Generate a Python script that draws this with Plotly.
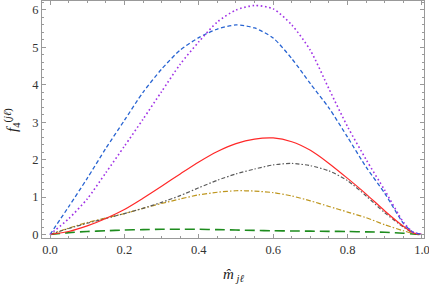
import plotly.graph_objects as go

x = [0.0, 0.05, 0.1, 0.15, 0.2, 0.25, 0.3, 0.35, 0.4, 0.45, 0.5,
     0.55, 0.6, 0.65, 0.7, 0.75, 0.8, 0.85, 0.9, 0.95, 0.975, 1.0]

blue = [0.0, 0.74, 1.5, 2.3, 3.05, 3.8, 4.42, 4.93, 5.26, 5.49, 5.6,
        5.52, 5.25, 4.7, 4.03, 3.38, 2.6, 1.8, 1.1, 0.3, 0.07, 0.0]
purple = [0.0, 0.42, 0.95, 1.65, 2.36, 3.08, 3.82, 4.55, 5.15, 5.68, 6.0,
          6.12, 6.03, 5.6, 4.92, 3.89, 2.88, 2.0, 1.18, 0.33, 0.07, 0.0]
red = [0.0, 0.08, 0.23, 0.43, 0.67, 0.97, 1.29, 1.62, 1.94, 2.22, 2.43,
       2.55, 2.58, 2.48, 2.25, 1.9, 1.5, 1.08, 0.63, 0.22, 0.05, 0.0]
gray = [0.0, 0.16, 0.3, 0.43, 0.56, 0.7, 0.86, 1.04, 1.25, 1.45, 1.62,
        1.75, 1.86, 1.9, 1.84, 1.7, 1.44, 1.03, 0.58, 0.2, 0.05, 0.0]
golden = [0.0, 0.17, 0.32, 0.44, 0.56, 0.7, 0.83, 0.95, 1.06, 1.13, 1.17,
          1.16, 1.12, 1.03, 0.9, 0.75, 0.6, 0.45, 0.26, 0.1, 0.03, 0.0]
green = [0.0, 0.05, 0.08, 0.1, 0.12, 0.13, 0.14, 0.14, 0.14, 0.13, 0.12,
         0.11, 0.1, 0.095, 0.09, 0.085, 0.08, 0.07, 0.06, 0.035, 0.015, 0.0]

xticks = [0.0, 0.2, 0.4, 0.6, 0.8, 1.0]
xticklabels = ["0.0", "0.2", "0.4", "0.6", "0.8", "1.0"]
yticks = [0, 1, 2, 3, 4, 5, 6]
yticklabels = ["0", "1", "2", "3", "4", "5", "6"]

series = [
    (green, "rgb(30,140,30)", "10px,5px", 1.6),
    (golden, "rgb(190,150,30)", "5px,2px,1.5px,2px", 1.2),
    (gray, "rgb(90,90,90)", "4px,2px,1.5px,2px", 1.2),
    (red, "rgb(255,40,40)", "solid", 1.2),
    (blue, "rgb(40,100,210)", "4px,2.5px", 1.3),
    (purple, "rgb(160,50,230)", "1.6px,2.6px", 1.6),
]

fig = go.Figure()
for ys, col, dash, w in series:
    fig.add_trace(go.Scatter(x=x, y=ys, mode="lines",
                             line=dict(color=col, dash=dash, width=w, shape="spline", smoothing=0.7),
                             showlegend=False))

FONT = "Liberation Serif, Times New Roman, serif"
axis_common = dict(
    showgrid=False, zeroline=False, showline=True, linecolor="#999999", linewidth=1,
    mirror="allticks", ticks="inside", ticklen=4, tickcolor="#999999",
    tickfont=dict(family=FONT, size=12.5, color="#333333"), automargin=False,
)

fig.update_xaxes(range=[-0.0215, 1.0054], tickvals=xticks, ticktext=xticklabels,
                 ticklabeloverflow="allow",
                 minor=dict(dtick=0.05, ticklen=2, tickcolor="#999999", ticks="inside"),
                 **axis_common)
fig.update_yaxes(range=[-0.093, 6.24], tickvals=yticks, ticktext=yticklabels,
                 ticklabeloverflow="allow",
                 minor=dict(dtick=0.2, ticklen=2, tickcolor="#999999", ticks="inside"),
                 **axis_common)

fig.add_annotation(text="<i>f</i><sub>4</sub><sup>(<i>jℓ</i>)</sup>", textangle=-90,
                   xref="paper", yref="paper", x=-0.08, y=0.5, xanchor="center", yanchor="middle",
                   showarrow=False,
                   font=dict(family=FONT, size=15, color="#222222"))
fig.add_annotation(text="<i>m̂</i><sub> <i>jℓ</i></sub>",
                   xref="paper", yref="paper", x=0.5, y=-0.155, xanchor="center", yanchor="middle",
                   showarrow=False,
                   font=dict(family=FONT, size=15, color="#222222"))

fig.update_layout(width=429, height=289, margin=dict(l=42, r=5, t=1, b=51, autoexpand=False),
                  plot_bgcolor="white", paper_bgcolor="white")

fig.write_html("out.html", config={"displayModeBar": False},
               post_script="document.body.style.margin='0';document.body.style.padding='0';document.body.style.overflow='hidden';")
